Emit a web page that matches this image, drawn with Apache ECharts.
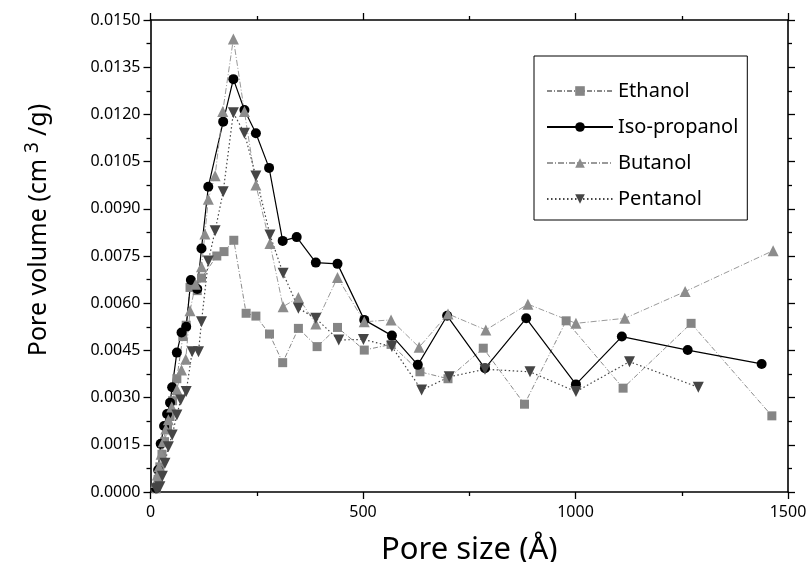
<!DOCTYPE html>
<html>
<head>
<meta charset="utf-8">
<script src="https://cdn.jsdelivr.net/npm/echarts@6/dist/echarts.min.js"></script>
<style>html,body{margin:0;padding:0;background:#fff;}#c{width:810px;height:562px;}</style>
</head>
<body>
<div id="c"></div>
<script>
var seriesNames = ['Ethanol', 'Iso-propanol', 'Butanol', 'Pentanol'];
var xTicks = [0, 500, 1000, 1500];

var ethX = [13, 18, 22, 27, 33, 40, 46, 52, 62, 76, 84, 93, 110, 120, 156, 173, 196, 225, 248, 280, 311, 348, 392, 440, 503, 566, 634, 700, 783, 880, 978, 1112, 1272, 1462];
var ethY = [0.0001, 0.0004, 0.0008, 0.0012, 0.0016, 0.0020, 0.0024, 0.0029, 0.0036, 0.00494, 0.0053, 0.0065, 0.0064, 0.0068, 0.0075, 0.00764, 0.0080, 0.00568, 0.00559, 0.00502, 0.00411, 0.0052, 0.00462, 0.00523, 0.00451, 0.00469, 0.00382, 0.0036, 0.00457, 0.00279, 0.00544, 0.0033, 0.00536, 0.00242];

var isoX = [13, 18, 24, 32, 39, 46, 51, 62, 73, 84, 95, 110, 120, 136, 171, 195, 221, 248, 279, 311, 344, 389, 440, 503, 568, 629, 698, 787, 884, 1001, 1109, 1264, 1438];
var isoY = [0.00012, 0.0007, 0.00153, 0.0021, 0.00248, 0.00284, 0.00333, 0.00443, 0.00507, 0.00525, 0.00674, 0.00645, 0.00774, 0.0097, 0.01177, 0.01312, 0.01214, 0.0114, 0.0103, 0.00798, 0.0081, 0.00729, 0.00725, 0.00547, 0.00497, 0.00404, 0.0056, 0.00393, 0.00552, 0.00342, 0.00494, 0.00451, 0.00407];

var butX = [13, 16, 20, 25, 30, 36, 42, 50, 62, 73, 83, 93, 106, 120, 128, 136, 152, 170, 195, 221, 248, 281, 312, 348, 389, 440, 503, 566, 632, 700, 789, 888, 1001, 1116, 1258, 1465];
var butY = [0.0003, 0.00054, 0.0008, 0.0012, 0.0016, 0.0020, 0.0023, 0.0027, 0.00326, 0.00388, 0.00422, 0.00576, 0.0066, 0.00716, 0.0082, 0.0093, 0.01005, 0.01209, 0.0144, 0.01209, 0.00976, 0.0079, 0.00589, 0.00618, 0.00534, 0.00682, 0.00541, 0.00547, 0.0046, 0.00566, 0.00515, 0.00597, 0.00536, 0.00552, 0.00637, 0.00767];

var penX = [13, 17, 22, 28, 34, 42, 51, 62, 71, 84, 98, 113, 120, 136, 152, 171, 195, 221, 248, 281, 312, 348, 389, 443, 501, 568, 638, 703, 787, 893, 1001, 1127, 1289];
var penY = [0.0001, 0.00012, 0.00017, 0.0005, 0.00091, 0.00144, 0.00181, 0.00245, 0.00292, 0.00319, 0.00446, 0.00446, 0.00541, 0.00734, 0.0083, 0.00954, 0.01205, 0.0114, 0.01004, 0.00817, 0.00695, 0.00584, 0.00552, 0.00483, 0.00485, 0.00462, 0.00324, 0.00366, 0.0039, 0.00382, 0.00319, 0.00414, 0.00333];

function pairs(xs, ys) { return xs.map(function (x, i) { return [x, ys[i]]; }); }

var FONT = 'Noto Sans';
var chart = echarts.init(document.getElementById('c'), null, {renderer: 'canvas'});

var axisCommon = {
  axisLine: {show: true, onZero: false, lineStyle: {color: '#000', width: 1.6}},
  axisTick: {show: true, inside: false, length: 7, lineStyle: {color: '#000', width: 1.3}},
  minorTick: {show: true, splitNumber: 2, length: 4, lineStyle: {color: '#000', width: 1.3}},
  splitLine: {show: false}
};

var option = {
  animation: false,
  backgroundColor: '#fff',
  grid: {left: 150.5, right: 22, top: 20, bottom: 70, containLabel: false, outerBoundsMode: 'none'},
  legend: {
    data: seriesNames,
    orient: 'vertical',
    left: 534, top: 56,
    padding: [24, 9, 10, 12],
    itemGap: 14,
    itemWidth: 66, itemHeight: 12,
    borderColor: '#000', borderWidth: 1,
    textStyle: {fontFamily: FONT, fontSize: 20, color: '#000', lineHeight: 22}
  },
  xAxis: [
    Object.assign({}, axisCommon, {
      type: 'value', position: 'bottom', min: 0, max: 1500, interval: 500,
      name: 'Pore size (Å)', nameLocation: 'middle', nameGap: 43,
      nameTextStyle: {fontFamily: FONT, fontSize: 31, color: '#000'},
      axisLabel: {fontFamily: FONT, fontSize: 16, color: '#000', margin: 12,
        formatter: function (v) { return xTicks.indexOf(v) >= 0 ? String(v) : ''; }}
    }),
    Object.assign({}, axisCommon, {
      type: 'value', position: 'top', min: 0, max: 1500, interval: 500,
      axisLabel: {show: false}
    })
  ],
  yAxis: [
    Object.assign({}, axisCommon, {
      type: 'value', position: 'left', min: 0, max: 0.015, interval: 0.0015,
      name: '{a|Pore volume (cm}{b|3}{a|/g)}', nameLocation: 'middle', nameRotate: 90, nameGap: 96,
      nameTextStyle: {padding: [0, 0, 0, 52], rich: {
        a: {fontFamily: FONT, fontSize: 25, color: '#000'},
        b: {fontFamily: FONT, fontSize: 19, color: '#000', padding: [0, 6, 12, 6]}
      }},
      axisLabel: {fontFamily: FONT, fontSize: 16, color: '#000', margin: 10,
        formatter: function (v) { return v.toFixed(4); }}
    }),
    Object.assign({}, axisCommon, {
      type: 'value', position: 'right', min: 0, max: 0.015, interval: 0.0015,
      axisLabel: {show: false}
    })
  ],
  series: [
    {
      name: 'Ethanol', type: 'line', data: pairs(ethX, ethY),
      symbol: 'rect', symbolSize: 9,
      itemStyle: {color: '#858585'},
      lineStyle: {color: '#8a8a8a', width: 1, type: [5, 2, 1, 2]}
    },
    {
      name: 'Iso-propanol', type: 'line', data: pairs(isoX, isoY),
      symbol: 'circle', symbolSize: 10,
      itemStyle: {color: '#000'},
      lineStyle: {color: '#000', width: 1.2, type: 'solid'}
    },
    {
      name: 'Butanol', type: 'line', data: pairs(butX, butY),
      symbol: 'triangle', symbolSize: 11,
      itemStyle: {color: '#8c8c8c'},
      lineStyle: {color: '#9a9a9a', width: 1, type: [6, 2, 1, 2]}
    },
    {
      name: 'Pentanol', type: 'line', data: pairs(penX, penY),
      symbol: 'triangle', symbolRotate: 180, symbolSize: 11,
      itemStyle: {color: '#454545'},
      lineStyle: {color: '#454545', width: 1.2, type: [1.5, 2.5]}
    }
  ]
};
chart.setOption(option);
</script>
</body>
</html>
